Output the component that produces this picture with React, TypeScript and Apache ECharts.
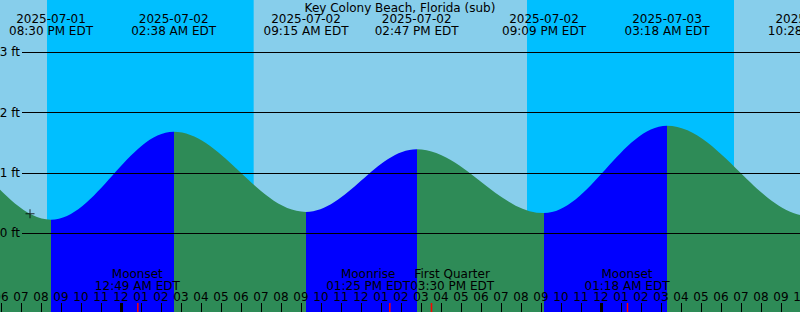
import React, { useEffect, useRef } from 'react';
import * as echarts from 'echarts';

// ---------- data ----------
const TITLE = 'Key Colony Beach, Florida (sub)';
const TZ = 'EDT';
// tide extrema (local time) and heights in ft (first and last two lie off the visible range)
const tideTimes = [
  '2025-07-01 08:05', '2025-07-01 14:25', '2025-07-01 20:30', '2025-07-02 02:38',
  '2025-07-02 09:15', '2025-07-02 14:47', '2025-07-02 21:09', '2025-07-03 03:18',
  '2025-07-03 10:28', '2025-07-03 16:20',
];
const tideHeights = [0.36, 1.55, 0.22, 1.68, 0.35, 1.39, 0.33, 1.78, 0.28, 1.40];
// night bands
const sunsetTimes = ['2025-07-01 20:18', '2025-07-02 20:18'];
const sunriseTimes = ['2025-07-02 06:38', '2025-07-03 06:39'];
// moon events
const moonEventNames = ['Moonset', 'Moonrise', 'First Quarter', 'Moonset'];
const moonEventTimes = ['2025-07-02 00:49', '2025-07-02 13:25', '2025-07-02 15:30', '2025-07-03 01:18'];
const midnightTimes = ['2025-07-02 00:00', '2025-07-03 00:00'];
// datum lines (ft)
const datumTicks = [0, 1, 2, 3];
// "+" mark
const markTimes = ['2025-07-01 19:27'];
const markLevels = [0.32];

// ---------- helpers ----------
const REF = Date.UTC(2025, 6, 2, 0, 0);
function toHours(s: string): number {
  const [d, t] = s.split(' ');
  const [y, m, dd] = d.split('-').map(Number);
  const [hh, mm] = t.split(':').map(Number);
  return (Date.UTC(y, m - 1, dd, hh, mm) - REF) / 3600000;
}
const pad = (n: number) => (n < 10 ? '0' + n : '' + n);
function fmtClock(s: string): string {
  const [, t] = s.split(' ');
  const [hh, mm] = t.split(':').map(Number);
  const h12 = ((hh + 11) % 12) + 1;
  return `${pad(h12)}:${pad(mm)} ${hh < 12 ? 'AM' : 'PM'} ${TZ}`;
}
const hourLabel = (v: number) => {
  const hh = ((Math.round(v) % 24) + 24) % 24;
  return pad(((hh + 11) % 12) + 1);
};

const FONT_FAMILY = '"DejaVu Sans", sans-serif';
const FONT = `12px ${FONT_FAMILY}`;
const COLORS = {
  day: '#87CEEB',
  night: '#00BFFF',
  flood: '#0000FF',
  ebb: '#2E8B57',
  text: '#000000',
  moonTick: '#FF0000',
};

// layout (pixels)
const LEFT_PAD = 19; // container starts 19px left of the page
const W = 820;
const H = 312;
const ZERO_PX = 233;
const PX_PER_FT = 60.23;
const TICK_LEN = 9;
const X_MIN = -7;
const X_MAX = 34;

export default function App() {
  const ref = useRef<HTMLDivElement>(null);
  useEffect(() => {
    if (!ref.current) return;
    const chart = echarts.init(ref.current, null, { renderer: 'svg' });

    const tideData = tideTimes.map((t, i) => [toHours(t), tideHeights[i]]);
    const pieces = [] as any[];
    for (let i = 0; i < tideData.length - 1; i++) {
      pieces.push({
        gte: tideData[i][0],
        lt: tideData[i + 1][0],
        color: tideData[i + 1][1] > tideData[i][1] ? COLORS.flood : COLORS.ebb,
      });
    }

    const yMin = -(H - ZERO_PX) / PX_PER_FT;
    const yMax = ZERO_PX / PX_PER_FT;
    const dMin = Math.min(...datumTicks);
    const dMax = Math.max(...datumTicks);

    chart.setOption({
      animation: false,
      backgroundColor: COLORS.day,
      grid: [
        { left: 0, right: 0, top: 0, bottom: 0, outerBoundsMode: 'none' },
        {
          left: LEFT_PAD + 22,
          right: 0,
          top: ZERO_PX - dMax * PX_PER_FT,
          bottom: H - (ZERO_PX - dMin * PX_PER_FT),
          outerBoundsMode: 'none',
        },
      ],
      xAxis: [
        {
          gridIndex: 0,
          type: 'value',
          position: 'bottom',
          offset: -TICK_LEN,
          min: X_MIN,
          max: X_MAX,
          interval: 1,
          z: 10,
          axisLine: { show: false, onZero: false },
          splitLine: { show: false },
          axisTick: { show: false },
          axisLabel: {
            show: true,
            inside: true,
            interval: 0,
            margin: 0,
            formatter: hourLabel,
            color: COLORS.text,
            fontFamily: FONT_FAMILY,
            fontSize: 12,
            hideOverlap: false,
          },
        },
        { gridIndex: 1, type: 'value', min: 0, max: 1, show: false },
      ],
      yAxis: [
        { gridIndex: 0, type: 'value', min: yMin, max: yMax, show: false },
        {
          gridIndex: 1,
          type: 'value',
          min: dMin,
          max: dMax,
          interval: 1,
          z: 10,
          axisLine: { show: false },
          axisTick: { show: false },
          splitLine: { show: true, lineStyle: { color: '#000', width: 1 } },
          axisLabel: {
            show: true,
            margin: 2,
            formatter: (v: number) => `${v} ft`,
            color: COLORS.text,
            fontFamily: FONT_FAMILY,
            fontSize: 12,
          },
        },
      ],
      visualMap: {
        type: 'piecewise',
        show: false,
        dimension: 0,
        seriesIndex: 0,
        pieces,
      },
      series: [
        {
          type: 'line',
          xAxisIndex: 0,
          yAxisIndex: 0,
          data: tideData,
          smooth: 0.36,
          smoothMonotone: 'x',
          symbol: 'none',
          showSymbol: false,
          lineStyle: { width: 0 },
          areaStyle: { opacity: 1, origin: 'start' },
          silent: true,
          markArea: {
            silent: true,
            itemStyle: { color: COLORS.night, opacity: 1 },
            data: sunsetTimes.map((s, i) => [{ xAxis: toHours(s) }, { xAxis: toHours(sunriseTimes[i]) }]),
          },
        },
        {
          type: 'scatter',
          xAxisIndex: 0,
          yAxisIndex: 0,
          data: markTimes.map((t, i) => [toHours(t), markLevels[i]]),
          symbol: 'path://M0,4H9V5H0Z M4,0H5V9H4Z',
          symbolSize: 9,
          itemStyle: { color: '#000' },
          silent: true,
          z: 5,
        },
      ],
    });

    // text measurement for label overlap resolution
    const canvas = document.createElement('canvas');
    const ctx = canvas.getContext('2d')!;
    ctx.font = FONT;
    const tw = (s: string) => ctx.measureText(s).width;

    const xPx = (t: number) => chart.convertToPixel({ xAxisIndex: 0 }, t) as number;
    const textEl = (text: string, x: number, y: number) => ({
      type: 'text',
      z: 100,
      silent: true,
      style: {
        text,
        x,
        y,
        fill: COLORS.text,
        font: FONT,
        textAlign: 'center',
        align: 'center',
        textVerticalAlign: 'middle',
        verticalAlign: 'middle',
      },
    });

    const elements: any[] = [];
    elements.push(textEl(TITLE, LEFT_PAD + 400, 8));

    // hour tick marks along the bottom (positions from the x axis scale)
    for (let h = Math.ceil(X_MIN); h <= Math.floor(X_MAX); h++) {
      const x = Math.round(xPx(h)) + 0.5;
      elements.push({
        type: 'line',
        z: 99,
        silent: true,
        shape: { x1: x, y1: H - TICK_LEN, x2: x, y2: H },
        style: { stroke: '#000', lineWidth: 1 },
      });
    }

    // tide extrema labels
    tideTimes.forEach((t) => {
      const x = xPx(toHours(t));
      if (x < -100 || x > W + 100) return;
      elements.push(textEl(t.split(' ')[0], x, 19));
      elements.push(textEl(fmtClock(t), x, 31));
    });

    // midnight ticks
    midnightTimes.forEach((t) => {
      const x = xPx(toHours(t));
      elements.push({
        type: 'rect',
        z: 100,
        silent: true,
        shape: { x: x - 1, y: H - TICK_LEN, width: 3, height: TICK_LEN },
        style: { fill: '#000' },
      });
    });

    // moon events
    const moonLabels = moonEventTimes.map((t, i) => {
      const x = xPx(toHours(t));
      const clock = fmtClock(t);
      return { x, tick: x, name: moonEventNames[i], clock, w: Math.max(tw(moonEventNames[i]), tw(clock)) };
    });
    moonLabels.sort((a, b) => a.x - b.x);
    for (let i = 1; i < moonLabels.length; i++) {
      const a = moonLabels[i - 1];
      const b = moonLabels[i];
      const overlap = a.x + a.w / 2 - (b.x - b.w / 2);
      if (overlap > 0) {
        a.x -= overlap / 2;
        b.x += overlap / 2;
      }
    }
    moonLabels.forEach((m) => {
      elements.push({
        type: 'rect',
        z: 101,
        silent: true,
        shape: { x: m.tick - 0.25, y: H - TICK_LEN, width: 1.5, height: TICK_LEN },
        style: { fill: COLORS.moonTick },
      });
      elements.push(textEl(m.name, m.x, 273.5));
      elements.push(textEl(m.clock, m.x, 285.5));
    });

    chart.setOption({ graphic: { elements } });

    return () => chart.dispose();
  }, []);

  return (
    <div
      ref={ref}
      style={{ position: 'fixed', left: -LEFT_PAD, top: 0, width: W, height: H }}
    />
  );
}
